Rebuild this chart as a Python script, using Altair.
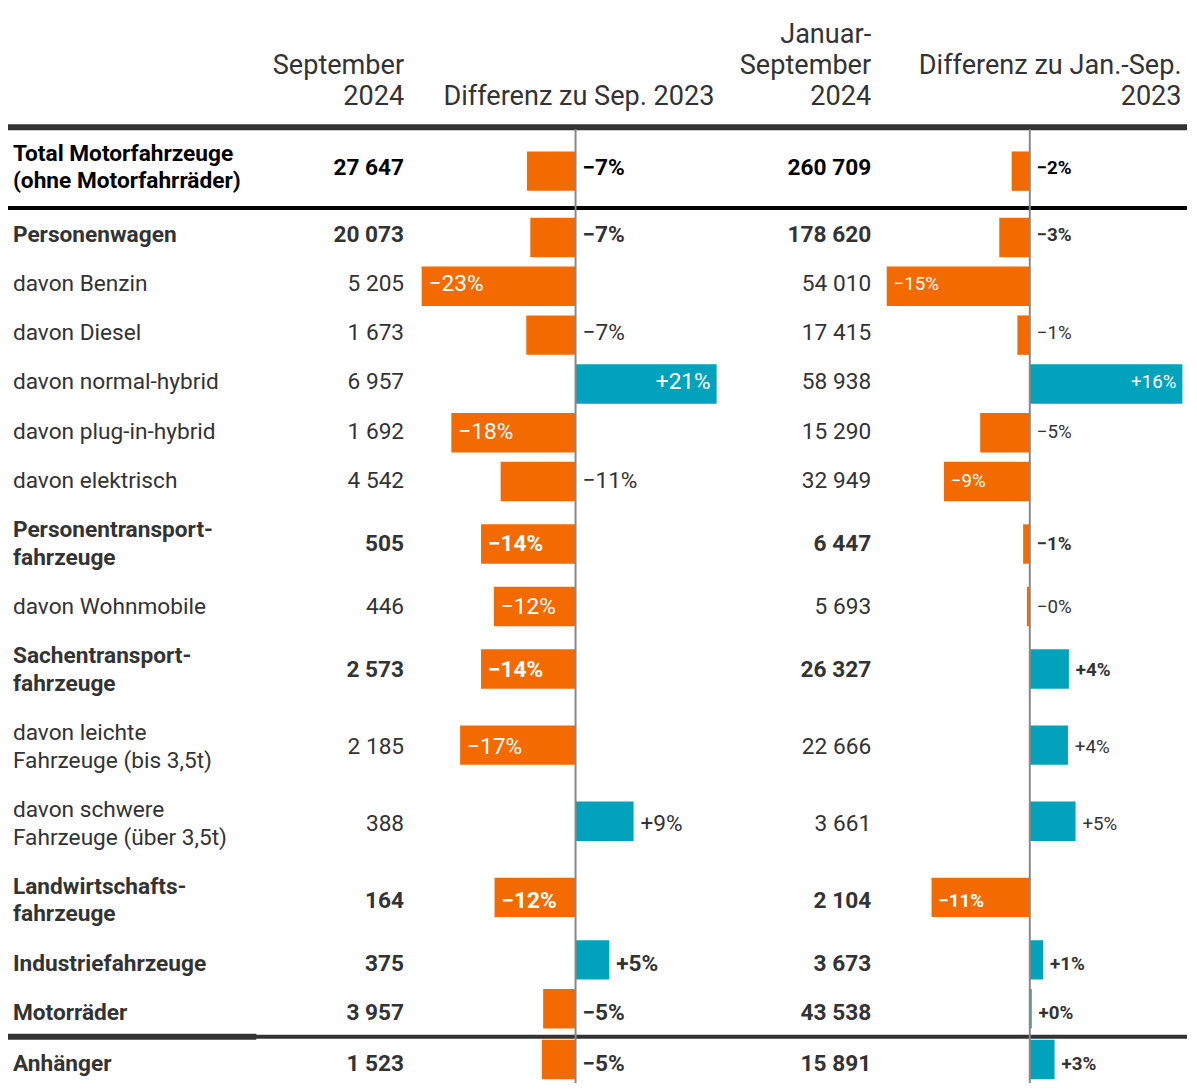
import altair as alt
import pandas as pd

# ---------------- data ----------------
labels = [
    "Total Motorfahrzeuge\n(ohne Motorfahrräder)",
    "Personenwagen",
    "davon Benzin",
    "davon Diesel",
    "davon normal-hybrid",
    "davon plug-in-hybrid",
    "davon elektrisch",
    "Personentransport-\nfahrzeuge",
    "davon Wohnmobile",
    "Sachentransport-\nfahrzeuge",
    "davon leichte\nFahrzeuge (bis 3,5t)",
    "davon schwere\nFahrzeuge (über 3,5t)",
    "Landwirtschafts-\nfahrzeuge",
    "Industriefahrzeuge",
    "Motorräder",
    "Anhänger",
]
bold = [1, 1, 0, 0, 0, 0, 0, 1, 0, 1, 0, 0, 1, 1, 1, 1]
sep_2024 = [27647, 20073, 5205, 1673, 6957, 1692, 4542, 505, 446, 2573, 2185, 388, 164, 375, 3957, 1523]
diff_sep = [-7.2, -6.7, -22.8, -7.3, 20.9, -18.4, -11.1, -14.0, -12.1, -14.0, -17.1, 8.6, -12.0, 5.0, -4.8, -5.0]
diff_sep_txt = ["−7%", "−7%", "−23%", "−7%", "+21%", "−18%", "−11%", "−14%", "−12%", "−14%",
                "−17%", "+9%", "−12%", "+5%", "−5%", "−5%"]
jan_sep_2024 = [260709, 178620, 54010, 17415, 58938, 15290, 32949, 6447, 5693, 26327, 22666, 3661,
                2104, 3673, 43538, 15891]
diff_jan = [-1.9, -3.2, -15.0, -1.3, 16.0, -5.2, -9.0, -0.7, -0.3, 4.1, 4.0, 4.8, -10.3, 1.4, 0.2, 2.6]
diff_jan_txt = ["−2%", "−3%", "−15%", "−1%", "+16%", "−5%", "−9%", "−1%", "−0%", "+4%", "+4%", "+5%",
                "−11%", "+1%", "+0%", "+3%"]

headers = [
    ("September\n2024", 402),
    ("Differenz zu Sep. 2023", 717),
    ("Januar-\nSeptember\n2024", 876),
    ("Differenz zu Jan.-Sep.\n2023", 1191),
]

# ---------------- layout (reference pixel units scaled to the view) ----------------
S = 1075 / 1091
W = round(1197 * S)
H = 1075
FONT = "Roboto"
ORANGE = "#f36a00"
TEAL = "#00a3bb"
DARK = "#333333"
GRID = "#888888"
LH = 28  # label line height


def sc(v):
    return v * S


top = 123
gaps_after = {0: 4, 14: 2}
ys, seps, nlines = [], [], []
cur = top
for i, lab in enumerate(labels):
    n = lab.count("\n") + 1
    nlines.append(n)
    h = 22 + LH * n
    ys.append(cur + h / 2)
    cur += h
    if i in gaps_after:
        seps.append(cur + gaps_after[i] / 2)
        cur += gaps_after[i]

PPP1, ZERO1 = 6.85, 576
PPP2, ZERO2 = 9.68, 1037
dom1 = [-24, 23]
dom2 = [-16, 17]
xs1 = alt.Scale(domain=dom1, range=[sc(ZERO1 + dom1[0] * PPP1), sc(ZERO1 + dom1[1] * PPP1)], nice=False, zero=False)
xs2 = alt.Scale(domain=dom2, range=[sc(ZERO2 + dom2[0] * PPP2), sc(ZERO2 + dom2[1] * PPP2)], nice=False, zero=False)
yscale = alt.Scale(domain=[0, 1091], range=[0, H], nice=False, zero=False)


def fmt(v):
    return f"{v:,}".replace(",", " ")


df = pd.DataFrame({
    "label": labels,
    "bold": bold,
    "nl": nlines,
    "y": ys,
    "sep": [fmt(v) for v in sep_2024],
    "jan": [fmt(v) for v in jan_sep_2024],
    "d1": diff_sep,
    "t1": diff_sep_txt,
    "d2": diff_jan,
    "t2": diff_jan_txt,
})
df["tc"] = ["#000000" if i == 0 else DARK for i in range(len(df))]
for k, ppp in ((1, PPP1), (2, PPP2)):
    d = df[f"d{k}"]
    inside = d.abs() * ppp > 80
    df[f"in{k}"] = inside
    df[f"lx{k}"] = [v if (ins or v > 0) else 0 for v, ins in zip(d, inside)]
    df[f"al{k}"] = ["right" if (ins and v > 0) else "left" for v, ins in zip(d, inside)]
    df[f"lc{k}"] = ["#ffffff" if ins else c for ins, c in zip(inside, df["tc"])]

Y = alt.Y("y:Q", scale=yscale, axis=None)
layers = []

# horizontal separators
lines = pd.DataFrame({
    "ly": [121, seps[0], seps[1] - 2],
    "lw": [6, 4, 4],
    "lcol": [DARK, "#000000", DARK],
})
layers.append(
    alt.Chart(lines).mark_rule().encode(
        x=alt.value(0), x2=alt.value(W),
        y=alt.Y("ly:Q", scale=yscale, axis=None),
        strokeWidth=alt.StrokeWidth("lw:Q", scale=None),
        color=alt.Color("lcol:N", scale=None),
    )
)
# thicker part of the bottom rule under the label column
layers.append(
    alt.Chart(lines.iloc[[2]]).mark_rule(strokeWidth=6, color=DARK).encode(
        x=alt.value(0), x2=alt.value(sc(252)),
        y=alt.Y("ly:Q", scale=yscale, axis=None),
    )
)

# bars
for k, xs in ((1, xs1), (2, xs2)):
    layers.append(
        alt.Chart(df).mark_bar(size=sc(40)).encode(
            x=alt.X(f"d{k}:Q", scale=xs, axis=None),
            x2=alt.datum(0),
            y=Y,
            color=alt.condition(f"datum.d{k} < 0", alt.value(ORANGE), alt.value(TEAL)),
        )
    )

# zero rules
zero = pd.DataFrame({"z": [0]})
for xs in (xs1, xs2):
    layers.append(
        alt.Chart(zero).mark_rule(color=GRID, strokeWidth=2).encode(
            x=alt.X("z:Q", scale=xs, axis=None),
            y=alt.value(sc(123)), y2=alt.value(H),
        )
    )

# row labels and values
for b in (0, 1):
    weight = "bold" if b else "normal"
    for n in sorted(set(nlines)):
        sub = df[(df["bold"] == b) & (df["nl"] == n)]
        if len(sub) == 0:
            continue
        layers.append(
            alt.Chart(sub).mark_text(align="left", baseline="middle", font=FONT, fontSize=sc(23),
                                     fontWeight=weight, lineBreak="\n", lineHeight=sc(LH),
                                     dy=-sc((n - 1) * LH / 2)).encode(
                x=alt.value(sc(5)), y=Y, text="label:N", color=alt.Color("tc:N", scale=None))
        )
    sub = df[df["bold"] == b]
    for col, xr in (("sep", 402), ("jan", 876)):
        layers.append(
            alt.Chart(sub).mark_text(align="right", baseline="middle", font=FONT, fontSize=sc(23),
                                     fontWeight=weight).encode(
                x=alt.value(sc(xr)), y=Y, text=f"{col}:N", color=alt.Color("tc:N", scale=None))
        )

# bar value labels
for k, xs, fs in ((1, xs1, 23), (2, xs2, 19)):
    for b in (0, 1):
        for al in ("left", "right"):
            sub = df[(df["bold"] == b) & (df[f"al{k}"] == al)]
            if len(sub) == 0:
                continue
            layers.append(
                alt.Chart(sub).mark_text(align=al, baseline="middle", font=FONT, fontSize=sc(fs),
                                         fontWeight="bold" if b else "normal",
                                         dx=sc(7) if al == "left" else -sc(6)).encode(
                    x=alt.X(f"lx{k}:Q", scale=xs, axis=None), y=Y, text=f"t{k}:N",
                    color=alt.Color(f"lc{k}:N", scale=None))
            )

# column headers
for txt, xr in headers:
    n = txt.count("\n") + 1
    layers.append(
        alt.Chart(zero).mark_text(align="right", baseline="alphabetic", font=FONT, fontSize=sc(27.5),
                                  lineBreak="\n", lineHeight=sc(31), color=DARK).encode(
            x=alt.value(sc(xr)), y=alt.value(sc(98 - (n - 1) * 31)), text=alt.value(txt))
    )

chart = alt.layer(*layers).resolve_scale(x="independent", y="independent").properties(
    width=W, height=H, padding=0, autosize=alt.AutoSizeParams(type="none"),
).configure_view(stroke=None)

chart.save("out.html", embed_options={"renderer": "svg", "actions": False})
